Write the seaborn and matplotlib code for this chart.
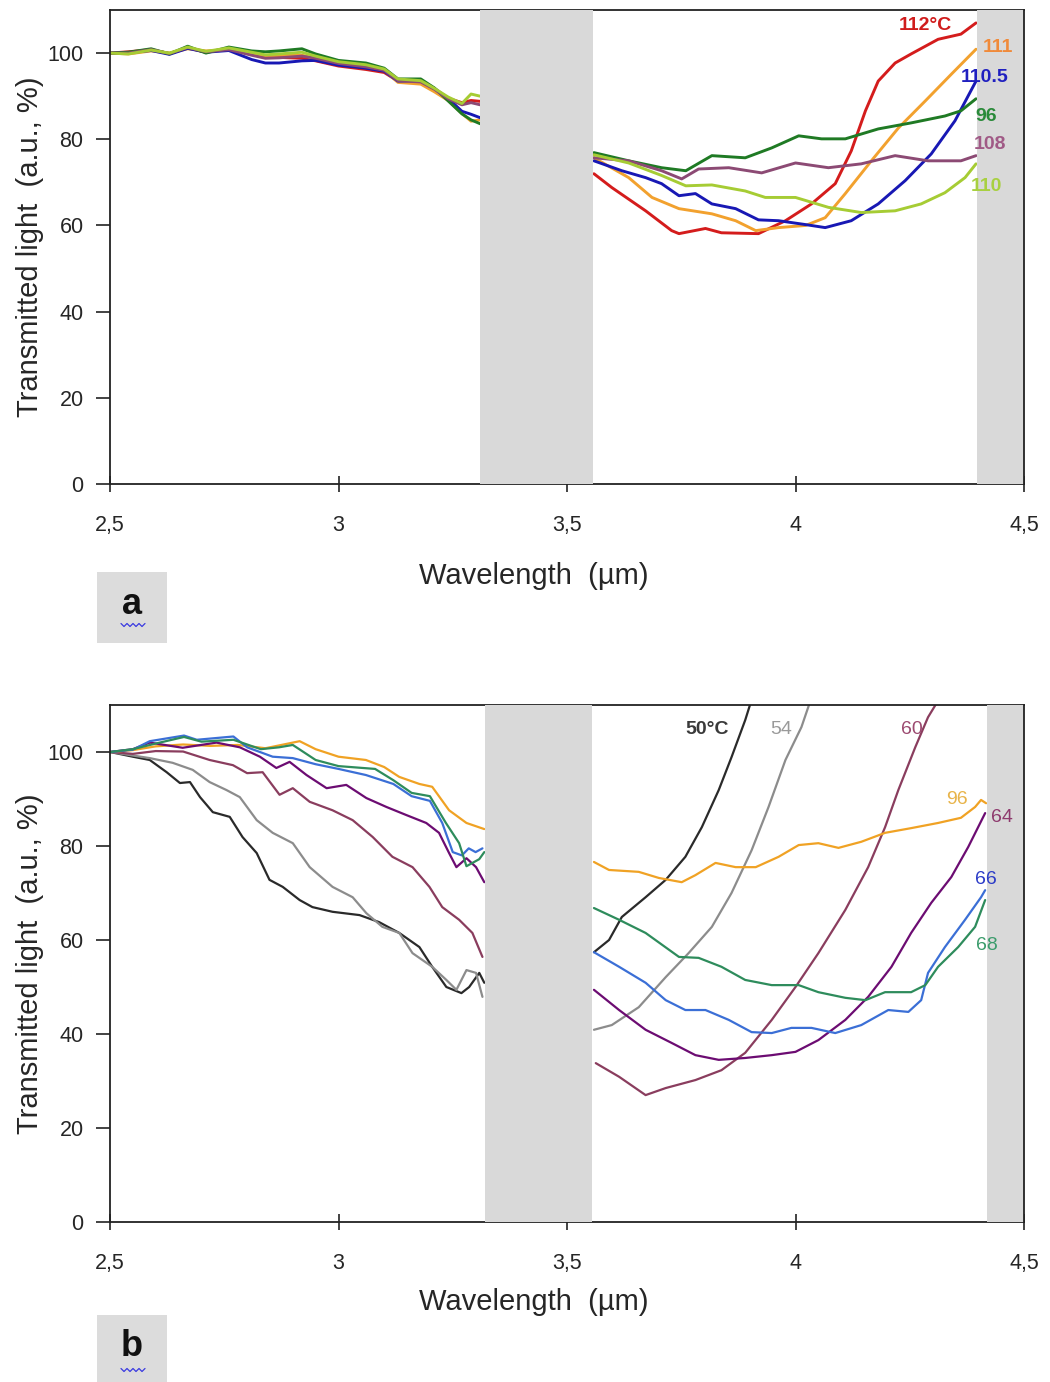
import numpy as np
import pandas as pd
import matplotlib
matplotlib.use("Agg")
import matplotlib.pyplot as plt
from matplotlib.patches import Rectangle
from matplotlib.lines import Line2D
import seaborn as sns

# ---------------- DATA ----------------
XTICKS = [2.5, 3.0, 3.5, 4.0, 4.5]
XTICK_LABELS = ["2,5", "3", "3,5", "4", "4,5"]
YTICKS = [0, 20, 40, 60, 80, 100]
BAND_A = [(3.31, 3.557), (4.397, 4.5)]
BAND_B = [(3.32, 3.555), (4.42, 4.5)]

# Panel a, left segment (shared wavelength grid)
A_WL_LEFT = [2.50, 2.54, 2.59, 2.63, 2.67, 2.71, 2.76, 2.81, 2.84, 2.87, 2.92,
             2.95, 3.00, 3.06, 3.10, 3.13, 3.18, 3.21, 3.24, 3.27, 3.29, 3.31]
A112_L = [100, 100.3, 100.8, 99.9, 101.2, 100.2, 101, 99.8, 99.2, 99, 98.8,
          98.2, 97, 96.2, 95.5, 93.5, 93.2, 91.5, 89.5, 88.5, 89, 88.8]
A111_L = [100, 99.8, 100.5, 100, 101, 100.5, 100.8, 100, 99.3, 99.5, 99.5,
          98.8, 97.5, 96.8, 96, 93.2, 92.8, 91, 89, 86, 84.2, 84.5]
A1105_L = [100, 100.1, 100.6, 99.7, 101.1, 100.2, 100.6, 98.5, 97.7, 97.7, 98.2,
           98.3, 97.2, 96.5, 95.8, 93.5, 93.6, 91.8, 89.5, 86.5, 85.8, 85]
A96_L = [100, 100.2, 101, 99.8, 101.6, 100, 101.4, 100.5, 100.3, 100.5, 101,
         99.8, 98.3, 97.7, 96.5, 94, 94, 91.9, 88.9, 85.9, 84.5, 83.6]
A108_L = [100, 100, 100.8, 99.9, 101.3, 100.3, 100.8, 99.5, 98.8, 98.9, 99.3,
          98.8, 97.6, 96.8, 96, 93.6, 93.3, 91.6, 89.4, 88, 88.5, 88]
A110_L = [100, 99.8, 100.7, 100, 101.4, 100.4, 101.2, 100.2, 99.6, 99.8, 100.2,
          99.3, 98, 97.3, 96.3, 94, 93.6, 91.8, 89.8, 88.3, 90.5, 90]

# Panel a, right segment
A112_R_WL = [3.559, 3.598, 3.672, 3.729, 3.745, 3.803, 3.838, 3.919, 3.978, 4.035,
             4.087, 4.122, 4.153, 4.181, 4.218, 4.253, 4.312, 4.362, 4.395]
A112_R = [72, 68.8, 63.4, 58.8, 58.1, 59.3, 58.3, 58.1, 61.1, 65,
          69.7, 77.3, 86.6, 93.5, 97.7, 99.8, 103.2, 104.4, 107]
A111_R_WL = [3.559, 3.635, 3.686, 3.745, 3.817, 3.869, 3.913, 3.963, 4.022, 4.065,
             4.109, 4.166, 4.225, 4.284, 4.341, 4.395]
A111_R = [75.7, 71.1, 66.5, 63.9, 62.7, 61.1, 58.8, 59.5, 60, 61.8,
          67.4, 75, 82.6, 88.9, 95.1, 100.9]
A1105_R_WL = [3.559, 3.620, 3.672, 3.707, 3.745, 3.781, 3.817, 3.869, 3.919, 3.963,
              4.022, 4.065, 4.122, 4.181, 4.240, 4.297, 4.349, 4.395]
A1105_R = [75, 72.7, 71.1, 69.7, 66.9, 67.4, 65, 63.9, 61.3, 61.1,
           60.2, 59.5, 61.1, 65, 70.4, 76.6, 84.3, 93.5]
A96_R_WL = [3.559, 3.635, 3.707, 3.760, 3.817, 3.890, 3.948, 4.007, 4.057, 4.109,
            4.181, 4.253, 4.327, 4.362, 4.395]
A96_R = [76.9, 75, 73.4, 72.7, 76.2, 75.7, 78, 80.8, 80.1, 80.1,
         82.4, 83.8, 85.4, 86.6, 89.4]
A108_R_WL = [3.559, 3.635, 3.707, 3.751, 3.788, 3.854, 3.926, 4.000, 4.072, 4.144,
             4.218, 4.290, 4.362, 4.395]
A108_R = [75.7, 75, 72.7, 70.8, 73.1, 73.4, 72.2, 74.5, 73.4, 74.3,
          76.2, 75, 75, 76.2]
A110_R_WL = [3.559, 3.635, 3.707, 3.760, 3.817, 3.890, 3.934, 4.000, 4.072, 4.144,
             4.218, 4.275, 4.327, 4.371, 4.395]
A110_R = [76.4, 74.5, 71.6, 69.2, 69.4, 68, 66.5, 66.5, 64.2, 63,
          63.4, 65, 67.6, 71.1, 74.3]

A_NAMES = ["112", "111", "110.5", "96", "108", "110"]
A_COLORS = ["#d41c1c", "#f2a12e", "#1818b4", "#1f7a24", "#8c4a74", "#a6cc34"]
A_LABELS = ["112°C", "111", "110.5", "96", "108", "110"]
A_LABEL_COLORS = ["#d01c1c", "#f08a3a", "#2020c0", "#2a8a3a", "#a05a86", "#a8d040"]
A_LABEL_X = [4.225, 4.41, 4.362, 4.393, 4.389, 4.384]
A_LABEL_Y = [106.3, 101.2, 94.4, 85.4, 78.7, 69.0]

# Panel b, left segment
B50_L_WL = [2.50, 2.55, 2.587, 2.624, 2.653, 2.675, 2.697, 2.725, 2.762, 2.790,
            2.821, 2.849, 2.878, 2.915, 2.943, 2.987, 3.046, 3.089, 3.133, 3.177,
            3.205, 3.236, 3.269, 3.286, 3.308, 3.319]
B50_L = [100, 99, 98.3, 95.7, 93.4, 93.6, 90.4, 87.2, 86.2, 81.9,
         78.5, 72.8, 71.3, 68.5, 67, 66, 65.3, 63.8, 61.5, 58.5,
         54.3, 50, 48.7, 50, 53, 50.9]
B54_L_WL = [2.50, 2.587, 2.637, 2.681, 2.718, 2.755, 2.784, 2.821, 2.856, 2.900,
            2.937, 2.987, 3.031, 3.061, 3.096, 3.133, 3.162, 3.205, 3.236, 3.258,
            3.280, 3.301, 3.315]
B54_L = [100, 98.7, 97.7, 96.2, 93.6, 91.9, 90.4, 85.5, 82.8, 80.6,
         75.5, 71.3, 69.1, 65.7, 62.8, 61.5, 57.2, 54.3, 51.5, 49.4,
         53.6, 53, 47.9]
B60_L_WL = [2.50, 2.55, 2.60, 2.66, 2.718, 2.769, 2.800, 2.834, 2.871, 2.900,
            2.937, 2.987, 3.031, 3.075, 3.118, 3.162, 3.199, 3.227, 3.264, 3.293,
            3.315]
B60_L = [100, 99.6, 100.2, 100.1, 98.3, 97.2, 95.5, 95.7, 90.9, 92.3,
         89.4, 87.6, 85.5, 81.9, 77.7, 75.5, 71.3, 67, 64.3, 61.5,
         56.4]
B64_L_WL = [2.50, 2.55, 2.587, 2.659, 2.733, 2.784, 2.828, 2.864, 2.893, 2.930,
            2.974, 3.017, 3.061, 3.105, 3.148, 3.192, 3.220, 3.242, 3.258, 3.280,
            3.301, 3.319]
B64_L = [100, 100.6, 102, 100.9, 102, 101, 99, 96.6, 97.9, 95.1,
         92.3, 93, 90.2, 88.3, 86.6, 84.9, 82.8, 78.5, 75.5, 77.4,
         75.5, 72.3]
B66_L_WL = [2.50, 2.55, 2.587, 2.662, 2.690, 2.770, 2.800, 2.856, 2.900, 2.950,
            3.000, 3.060, 3.120, 3.160, 3.200, 3.227, 3.250, 3.270, 3.285, 3.300,
            3.315]
B66_L = [100, 100.5, 102.3, 103.5, 102.6, 103.3, 101, 99, 98.7, 97.4,
         96.4, 95.1, 93.2, 90.6, 89.6, 84.9, 78.7, 78, 79.5, 78.7,
         79.5]
B68_L_WL = [2.50, 2.55, 2.60, 2.662, 2.700, 2.770, 2.830, 2.870, 2.900, 2.950,
            3.000, 3.080, 3.120, 3.160, 3.200, 3.235, 3.264, 3.280, 3.308, 3.319]
B68_L = [100, 100.6, 101.8, 103.2, 102.2, 102.6, 100.6, 101, 101.5, 98.3,
         97, 96.4, 94, 91.3, 90.6, 84.9, 80.6, 75.7, 77.2, 78.7]
B96_L_WL = [2.50, 2.55, 2.60, 2.66, 2.72, 2.78, 2.84, 2.900, 2.915, 2.950,
            3.000, 3.060, 3.100, 3.133, 3.177, 3.205, 3.242, 3.280, 3.319]
B96_L = [100, 100.4, 101.2, 101.6, 101.3, 101.5, 100.8, 102, 102.3, 100.6,
         99, 98.3, 96.8, 94.7, 93.2, 92.6, 87.6, 84.9, 83.6]

# Panel b, right segment
B50_R_WL = [3.559, 3.592, 3.620, 3.672, 3.716, 3.759, 3.795, 3.832, 3.860, 3.890, 3.910]
B50_R = [57.4, 60, 64.9, 69.1, 72.8, 77.7, 84, 91.9, 98.9, 106.8, 113]
B54_R_WL = [3.559, 3.598, 3.657, 3.716, 3.766, 3.817, 3.860, 3.904, 3.941, 3.978,
            4.013, 4.040]
B54_R = [40.9, 41.9, 45.7, 52.1, 57.2, 62.8, 70, 79.1, 88.3, 98.3,
         105.3, 113]
B60_R_WL = [3.563, 3.614, 3.672, 3.716, 3.781, 3.838, 3.890, 3.948, 4.000, 4.050,
            4.109, 4.159, 4.196, 4.225, 4.262, 4.290, 4.325]
B60_R = [33.8, 30.9, 27, 28.5, 30.2, 32.3, 36, 43, 50, 57.2,
         66.4, 75.5, 84, 91.9, 101, 107.4, 113]
B96_R_WL = [3.559, 3.592, 3.657, 3.701, 3.751, 3.781, 3.825, 3.869, 3.913, 3.963,
            4.007, 4.050, 4.094, 4.144, 4.196, 4.253, 4.312, 4.362, 4.393, 4.406,
            4.417]
B96_R = [76.6, 74.9, 74.5, 73.2, 72.3, 73.8, 76.4, 75.5, 75.5, 77.7,
         80.2, 80.6, 79.6, 80.9, 82.8, 83.8, 84.9, 86, 88.3, 89.8,
         89.1]
B64_R_WL = [3.559, 3.614, 3.672, 3.729, 3.781, 3.832, 3.890, 3.948, 4.000, 4.050,
            4.109, 4.159, 4.210, 4.253, 4.297, 4.341, 4.378, 4.415]
B64_R = [49.4, 45.1, 40.9, 38.1, 35.5, 34.5, 34.9, 35.5, 36.2, 38.7,
         43, 47.9, 54.3, 61.5, 67.9, 73.4, 79.8, 87]
B66_R_WL = [3.559, 3.614, 3.672, 3.716, 3.759, 3.803, 3.854, 3.904, 3.948, 3.991,
            4.035, 4.087, 4.144, 4.203, 4.247, 4.275, 4.290, 4.327, 4.371, 4.406,
            4.415]
B66_R = [57.4, 54.3, 50.9, 47.2, 45.1, 45.1, 43, 40.4, 40.2, 41.3,
         41.3, 40.2, 41.9, 45.1, 44.7, 47.2, 53, 58.5, 64.3, 69.1,
         70.6]
B68_R_WL = [3.559, 3.614, 3.672, 3.745, 3.788, 3.838, 3.890, 3.948, 4.007, 4.050,
            4.109, 4.153, 4.196, 4.253, 4.284, 4.312, 4.356, 4.393, 4.415]
B68_R = [66.8, 64.3, 61.5, 56.4, 56.2, 54.3, 51.5, 50.4, 50.4, 48.9,
         47.7, 47.2, 48.9, 48.9, 50.4, 54.3, 58.5, 62.8, 68.5]

B_NAMES = ["50", "54", "60", "96", "64", "66", "68"]
B_COLORS = ["#2a2a2a", "#8c8c8c", "#8a3d5e", "#f0a224", "#6c0c72", "#3b6fd6", "#2e8c5c"]
B_LABELS = ["50°C", "54", "60", "96", "64", "66", "68"]
B_LABEL_COLORS = ["#3a3a3a", "#9a9a9a", "#9c4a70", "#e8b44a", "#8e3a6e", "#2c3cc8", "#3c9c6c"]
B_LABEL_X = [3.758, 3.945, 4.231, 4.330, 4.428, 4.393, 4.395]
B_LABEL_Y = [104.7, 104.7, 104.7, 90.0, 86.0, 72.8, 58.9]


def build_frame(names, segments):
    rows = []
    for name, (lx, ly, rx, ry) in zip(names, segments):
        rows.append(pd.DataFrame({"wl": lx, "T": ly, "curve": name, "seg": name + "_L"}))
        rows.append(pd.DataFrame({"wl": rx, "T": ry, "curve": name, "seg": name + "_R"}))
    return pd.concat(rows, ignore_index=True)


df_a = build_frame(A_NAMES, [
    (A_WL_LEFT, A112_L, A112_R_WL, A112_R),
    (A_WL_LEFT, A111_L, A111_R_WL, A111_R),
    (A_WL_LEFT, A1105_L, A1105_R_WL, A1105_R),
    (A_WL_LEFT, A96_L, A96_R_WL, A96_R),
    (A_WL_LEFT, A108_L, A108_R_WL, A108_R),
    (A_WL_LEFT, A110_L, A110_R_WL, A110_R),
])
df_b = build_frame(B_NAMES, [
    (B50_L_WL, B50_L, B50_R_WL, B50_R),
    (B54_L_WL, B54_L, B54_R_WL, B54_R),
    (B60_L_WL, B60_L, B60_R_WL, B60_R),
    (B96_L_WL, B96_L, B96_R_WL, B96_R),
    (B64_L_WL, B64_L, B64_R_WL, B64_R),
    (B66_L_WL, B66_L, B66_R_WL, B66_R),
    (B68_L_WL, B68_L, B68_R_WL, B68_R),
])

# ---------------- STYLE ----------------
sns.set_theme(style="white")
plt.rcParams["font.family"] = ["Liberation Sans", "DejaVu Sans"]
TXT = "#262626"

W, H = 1050, 1382
fig = plt.figure(figsize=(W / 100, H / 100), dpi=100)


def px_rect(left, top, right, bottom):
    return [left / W, 1 - bottom / H, (right - left) / W, (bottom - top) / H]


ax_a = fig.add_axes(px_rect(110, 10, 1024, 484))
ax_b = fig.add_axes(px_rect(110, 705, 1024, 1222))


def style_axis(ax, bands, label_top_frac):
    ax.set_xlim(2.5, 4.5)
    ax.set_ylim(0, 110)
    for lo, hi in bands:
        ax.axvspan(lo, hi, color="#d9d9d9", lw=0, zorder=3)
    ax.set_xticks(XTICKS, XTICK_LABELS)
    ax.set_yticks(YTICKS)
    ax.tick_params(axis="x", direction="inout", length=12, width=1.2, pad=16,
                   labelsize=15.5, colors="#222222", labelcolor=TXT, bottom=True)
    ax.tick_params(axis="y", direction="out", length=10, width=1.2, pad=9,
                   labelsize=15.5, colors="#222222", labelcolor=TXT, left=True)
    for side, sp in ax.spines.items():
        sp.set_color("#222222")
        sp.set_linewidth(1.3)
        sp.set_visible(True)
    ax.spines["right"].set_zorder(4)
    ax.set_xlabel("Wavelength  (µm)", fontsize=21, color=TXT)
    ax.set_ylabel("Transmitted light  (a.u., %)", fontsize=21, color=TXT)
    ax.xaxis.set_label_coords(0.464, label_top_frac)
    ax.yaxis.set_label_coords(-0.072, 0.5)
    ax.grid(False)


sns.lineplot(data=df_a, x="wl", y="T", hue="curve", units="seg", estimator=None,
             palette=dict(zip(A_NAMES, A_COLORS)), hue_order=A_NAMES,
             linewidth=2.1, legend=False, ax=ax_a, sort=False)
sns.lineplot(data=df_b, x="wl", y="T", hue="curve", units="seg", estimator=None,
             palette=dict(zip(B_NAMES, B_COLORS)), hue_order=B_NAMES,
             linewidth=1.6, legend=False, ax=ax_b, sort=False)

style_axis(ax_a, BAND_A, -0.165)
style_axis(ax_b, BAND_B, -0.128)

for lab, c, x, y in zip(A_LABELS, A_LABEL_COLORS, A_LABEL_X, A_LABEL_Y):
    ax_a.text(x, y, lab, color=c, fontsize=14, fontweight="bold", ha="left",
              va="center", zorder=6, clip_on=False)
for lab, c, x, y in zip(B_LABELS, B_LABEL_COLORS, B_LABEL_X, B_LABEL_Y):
    ax_b.text(x, y, lab, color=c, fontsize=14, ha="left", va="center",
              zorder=6, clip_on=False,
              fontweight="bold" if lab == "50°C" else "normal")

# panel letters with grey boxes and wavy underline
for letter, top, bottom, cy, uy in [("a", 572, 643, 605, 625), ("b", 1315, 1382, 1346, 1370)]:
    fig.patches.append(Rectangle((97 / W, 1 - bottom / H), 70 / W, (bottom - top) / H,
                                 transform=fig.transFigure, facecolor="#dcdcdc",
                                 edgecolor="none", zorder=0))
    fig.text(132 / W, 1 - cy / H, letter, fontsize=26, fontweight="bold",
             color="#111111", ha="center", va="center")
    zx = np.linspace(121, 145, 9)
    zy = uy + np.where(np.arange(9) % 2 == 0, -1.5, 1.5)
    fig.lines.append(Line2D(zx / W, 1 - zy / H, transform=fig.transFigure,
                            color="#3a3ae0", lw=0.9))

fig.savefig("out.png", dpi=100, facecolor="white")
